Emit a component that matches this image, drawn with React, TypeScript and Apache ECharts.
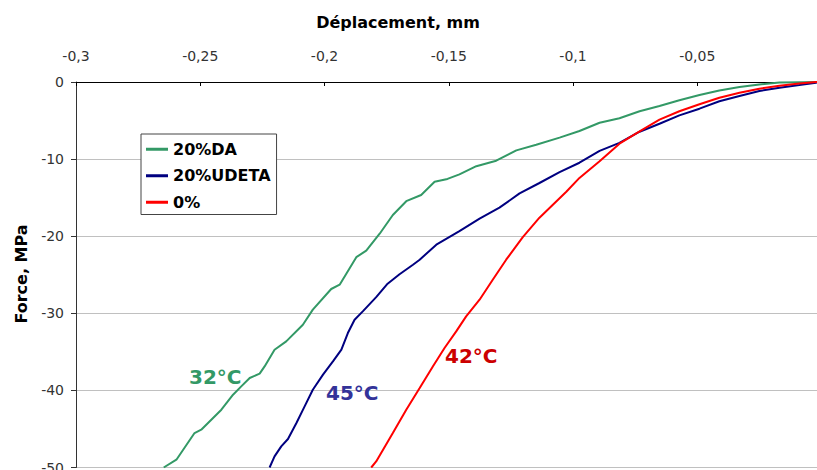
import React, { useEffect, useRef } from "react";
import * as echarts from "echarts";

const seriesNames = ["20%DA", "20%UDETA", "0%"];

const daX = [-0.2647, -0.2596, -0.2523, -0.2496, -0.2415, -0.2368, -0.2335, -0.2301, -0.2261, -0.2241, -0.2201, -0.2154, -0.2087, -0.2047, -0.1973, -0.1939, -0.1872, -0.1832, -0.1778, -0.1725, -0.1671, -0.1611, -0.1557, -0.1505, -0.1457, -0.1389, -0.1309, -0.1228, -0.1148, -0.1054, -0.0974, -0.0893, -0.0813, -0.0732, -0.0652, -0.0572, -0.0491, -0.0411, -0.033, -0.025, -0.0169, -0.008, 0];
const daY = [-50, -48.99, -45.53, -45.1, -42.5, -40.56, -39.48, -38.39, -37.83, -36.89, -34.72, -33.64, -31.48, -29.53, -26.85, -26.29, -22.72, -21.88, -19.68, -17.25, -15.46, -14.66, -12.93, -12.57, -11.98, -10.92, -10.21, -8.87, -8.13, -7.22, -6.36, -5.28, -4.7, -3.79, -3.11, -2.36, -1.69, -1.09, -0.65, -0.31, -0.08, -0.02, 0];

const udX = [-0.2221, -0.2201, -0.2174, -0.2147, -0.2113, -0.208, -0.2047, -0.2006, -0.1966, -0.1932, -0.1906, -0.1879, -0.1846, -0.1792, -0.1746, -0.1698, -0.1644, -0.1617, -0.155, -0.1457, -0.1376, -0.1296, -0.1215, -0.1135, -0.1054, -0.0974, -0.0893, -0.0813, -0.0732, -0.0652, -0.0572, -0.0491, -0.0411, -0.033, -0.025, -0.0169, -0.0089, -0.0022, 0];
const udY = [-50, -48.56, -47.26, -46.3, -44.23, -42.07, -39.91, -37.96, -36.24, -34.72, -32.56, -30.83, -29.75, -27.91, -26.16, -24.93, -23.7, -23.05, -21.1, -19.35, -17.73, -16.3, -14.45, -13.1, -11.7, -10.47, -8.94, -7.9, -6.45, -5.41, -4.33, -3.46, -2.49, -1.82, -1.17, -0.74, -0.39, -0.09, 0];

const refX = [-0.1812, -0.1792, -0.1725, -0.1671, -0.1617, -0.1564, -0.1517, -0.147, -0.143, -0.1376, -0.1323, -0.1269, -0.1202, -0.1135, -0.1081, -0.1027, -0.0974, -0.0893, -0.0813, -0.0732, -0.0652, -0.0572, -0.0491, -0.0411, -0.033, -0.025, -0.0169, -0.0089, -0.0022, 0];
const refY = [-50, -49.21, -45.53, -42.5, -39.69, -36.89, -34.5, -32.35, -30.4, -28.24, -25.64, -23.05, -20.13, -17.6, -15.91, -14.23, -12.44, -10.27, -8.0, -6.4, -4.89, -3.79, -2.88, -2.04, -1.39, -0.87, -0.48, -0.18, 0, 0];

const seriesColors = ["#339966", "#000080", "#ff0000"];
const annotationTexts = ["32°C", "45°C", "42°C"];
const annotationColors = ["#339966", "#333399", "#cc0000"];

const xTitle = "Déplacement, mm";
const yTitle = "Force, MPa";

const FONT = "'DejaVu Sans', 'Liberation Sans', Arial, sans-serif";

function pairs(xs: number[], ys: number[]) {
  return xs.map((x, i) => [x, ys[i]]);
}

export default function App() {
  const ref = useRef<HTMLDivElement>(null);
  useEffect(() => {
    if (!ref.current) return;
    const chart = echarts.init(ref.current, undefined, { renderer: "svg" });
    const dataSets = [pairs(daX, daY), pairs(udX, udY), pairs(refX, refY)];
    const annPos = [
      [189, 377],
      [326, 393],
      [445, 356],
    ];
    chart.setOption({
      animation: false,
      backgroundColor: "#ffffff",
      grid: {
        left: 76,
        top: 82,
        width: 745.5,
        height: 385.5,
        containLabel: false,
        outerBoundsMode: "none",
      },
      xAxis: {
        type: "value",
        position: "top",
        min: -0.3,
        max: 0,
        interval: 0.05,
        axisLine: { show: true, onZero: false, lineStyle: { color: "#000", width: 1 } },
        axisTick: { show: true, inside: true, length: 4, lineStyle: { color: "#000" } },
        splitLine: { show: false },
        axisLabel: {
          margin: 19,
          fontFamily: FONT,
          fontSize: 14,
          color: "#333",
          formatter: (v: number) => (Math.abs(v) < 1e-9 ? "" : String(+v.toFixed(2)).replace(".", ",")),
        },
      },
      yAxis: {
        type: "value",
        min: -50,
        max: 0,
        interval: 10,
        axisLine: { show: true, onZero: false, lineStyle: { color: "#333", width: 1 } },
        axisTick: { show: true, inside: false, length: 5, lineStyle: { color: "#333" } },
        splitLine: { show: true, lineStyle: { color: "#c0c0c0", width: 1 } },
        axisLabel: { margin: 12, fontFamily: FONT, fontSize: 14, color: "#333" },
      },
      legend: {
        data: seriesNames,
        orient: "vertical",
        left: 141,
        top: 134,
        backgroundColor: "#ffffff",
        borderColor: "#444",
        borderWidth: 1,
        padding: [7, 6, 4, 5],
        itemWidth: 22,
        itemHeight: 3,
        itemGap: 10,
        icon: "rect",
        textStyle: { fontFamily: FONT, fontWeight: "bold", fontSize: 16, color: "#000", lineHeight: 16.5 },
      },
      series: seriesNames.map((name, i) => ({
        name,
        type: "line",
        data: dataSets[i],
        symbol: "none",
        smooth: false,
        lineStyle: { color: seriesColors[i], width: 2 },
        itemStyle: { color: seriesColors[i] },
        z: 2 + i,
      })),
      graphic: [
        {
          type: "text",
          x: 398,
          y: 22,
          style: {
            text: xTitle,
            fill: "#000",
            fontFamily: FONT,
            fontWeight: "bold",
            fontSize: 16,
            align: "center",
            verticalAlign: "middle",
          },
        },
        {
          type: "text",
          x: 21,
          y: 274,
          rotation: Math.PI / 2,
          style: {
            text: yTitle,
            fill: "#000",
            fontFamily: FONT,
            fontWeight: "bold",
            fontSize: 16,
            align: "center",
            verticalAlign: "middle",
          },
        },
        ...annotationTexts.map((t, i) => ({
          type: "text",
          x: annPos[i][0],
          y: annPos[i][1],
          z: 10,
          style: {
            text: t,
            fill: annotationColors[i],
            fontFamily: FONT,
            fontWeight: "bold",
            fontSize: 20,
            align: "left",
            verticalAlign: "middle",
          },
        })),
      ],
    });
    return () => chart.dispose();
  }, []);
  return (
    <div
      ref={ref}
      style={{ position: "absolute", left: 0, top: 0, width: 817, height: 470, background: "#fff" }}
    />
  );
}
